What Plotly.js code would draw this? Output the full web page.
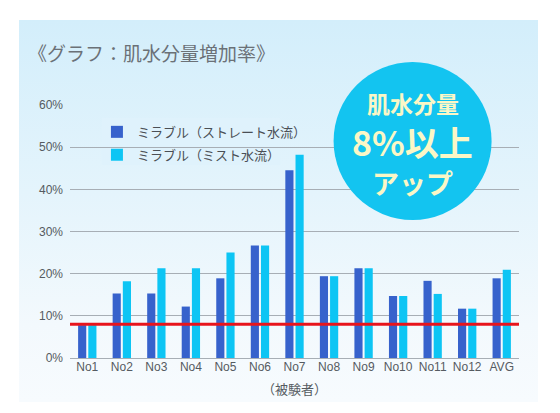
<!DOCTYPE html>
<html>
<head>
<meta charset="utf-8">
<script src="https://cdn.plot.ly/plotly-3.0.1.min.js"></script>
<style>
  html, body { margin: 0; padding: 0; background: #ffffff; }
  #wrap { position: relative; width: 560px; height: 413px; }
  #panel { position: absolute; left: 19px; top: 20px; width: 519px; height: 382px;
           background: linear-gradient(180deg, #d3eefb 0%, #e4f4fc 45%, #f3f9fd 80%, #f7fbfe 100%); }
  #chart { position: absolute; left: 0; top: 0; width: 560px; height: 413px; }
</style>
</head>
<body>
<div id="wrap">
  <div id="panel"></div>
  <div id="chart"></div>
</div>
<script>
// ---- data ----
const categories = ["No1","No2","No3","No4","No5","No6","No7","No8","No9","No10","No11","No12","AVG"];
const straightValues = [7.8, 15.3, 15.3, 12.2, 18.9, 26.7, 44.5, 19.4, 21.3, 14.7, 18.3, 11.7, 18.9];
const mistValues     = [7.8, 18.2, 21.3, 21.3, 25.0, 26.7, 48.2, 19.4, 21.3, 14.7, 15.2, 11.7, 20.9];
const seriesNames = ["ミラブル（ストレート水流）", "ミラブル（ミスト水流）"];
const yTickValues = [0, 10, 20, 30, 40, 50, 60];
const yTickLabels = ["0%", "10%", "20%", "30%", "40%", "50%", "60%"];
const thresholdValue = 8;
const chartTitle = "《グラフ：肌水分量増加率》";
const xAxisTitle = "（被験者）";
const badgeLines = ["肌水分量", "8%以上", "アップ"];

const jp = '"Noto Sans CJK JP", "Noto Sans", sans-serif';
const latin = '"Liberation Sans", Arial, sans-serif';
const badgeColor = '#fbf7c6';

const traces = [
  { type: 'bar', name: seriesNames[0], x: categories, y: straightValues, legendgroup: 'a',
    marker: { color: '#3762cc' }, hoverinfo: 'skip' },
  { type: 'bar', name: seriesNames[1], x: categories, y: mistValues, legendgroup: 'b',
    marker: { color: '#0dc5f4' }, hoverinfo: 'skip' }
];

const badgeX = 0.763;
const layout = {
  width: 560, height: 413,
  margin: { l: 70, r: 41, t: 105, b: 55, pad: 0 },
  paper_bgcolor: 'rgba(0,0,0,0)',
  plot_bgcolor: 'rgba(0,0,0,0)',
  showlegend: true,
  barmode: 'group',
  bargap: 0.41,
  bargroupgap: 0.2,
  title: { text: chartTitle, xref: 'container', yref: 'container', x: 0.05, y: 0.868,
           xanchor: 'left', yanchor: 'middle',
           font: { family: jp, size: 19, color: '#6b7177' } },
  xaxis: {
    type: 'category', range: [-0.5, 12.5], fixedrange: true,
    showgrid: false, zeroline: false, showline: false, ticks: '',
    tickfont: { family: latin, size: 12, color: '#555b61' },
    title: { text: xAxisTitle, standoff: 11, font: { family: jp, size: 13, color: '#555b61' } }
  },
  yaxis: {
    range: [0, 60], fixedrange: true,
    tickvals: yTickValues, ticktext: yTickLabels,
    showgrid: true, gridcolor: '#a7aeb5', gridwidth: 1,
    zeroline: true, zerolinecolor: '#a7aeb5', zerolinewidth: 1,
    showline: false, ticks: '', ticklabelstandoff: 6,
    tickfont: { family: latin, size: 12, color: '#555b61' }
  },
  legend: {
    x: 0.06, y: 0.953, xanchor: 'left', yanchor: 'top',
    bgcolor: 'rgba(0,0,0,0)', borderwidth: 0,
    font: { family: jp, size: 13, color: '#4a4f55' },
    tracegroupgap: 3, itemclick: false, itemdoubleclick: false
  },
  shapes: [
    { type: 'rect', xref: 'paper', yref: 'paper', x0: 0.071, x1: 0.468, y0: 0.763, y1: 0.949,
      fillcolor: '#dff2fc', line: { width: 0 }, layer: 'between' },
    { type: 'line', xref: 'paper', yref: 'y', x0: 0, x1: 1, y0: thresholdValue, y1: thresholdValue,
      line: { color: '#e8141c', width: 3 }, layer: 'above' },
    { type: 'circle', xref: 'paper', yref: 'paper',
      xsizemode: 'pixel', ysizemode: 'pixel', xanchor: badgeX, yanchor: 0.858,
      x0: -79, x1: 79, y0: -79, y1: 79,
      fillcolor: '#13c4f0', line: { width: 0 }, layer: 'above' }
  ],
  annotations: [
    { xref: 'paper', yref: 'paper', x: badgeX, y: 1.008, text: '<b>' + badgeLines[0] + '</b>',
      showarrow: false, xanchor: 'center', yanchor: 'middle',
      font: { family: jp, size: 23, color: badgeColor } },
    { xref: 'paper', yref: 'paper', x: badgeX, y: 0.854, text: '<b>' + badgeLines[1] + '</b>',
      showarrow: false, xanchor: 'center', yanchor: 'middle',
      font: { family: jp, size: 34, color: badgeColor } },
    { xref: 'paper', yref: 'paper', x: badgeX, y: 0.694, text: '<b>' + badgeLines[2] + '</b>',
      showarrow: false, xanchor: 'center', yanchor: 'middle',
      font: { family: jp, size: 27, color: badgeColor } }
  ]
};

Plotly.newPlot('chart', traces, layout, { displayModeBar: false, staticPlot: true });
</script>
</body>
</html>
